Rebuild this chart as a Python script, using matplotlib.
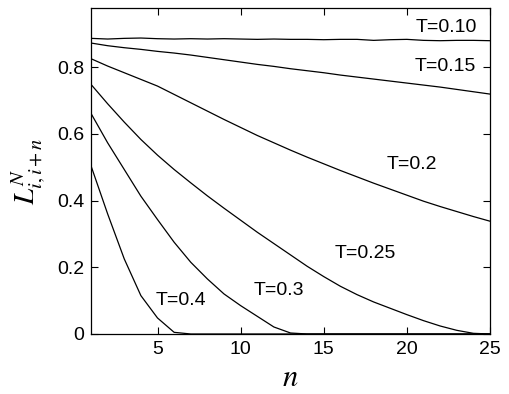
import numpy as np
import matplotlib.pyplot as plt

n = np.arange(1, 26)

L_010 = [0.886, 0.884, 0.886, 0.887, 0.885, 0.884, 0.885, 0.884, 0.885, 0.884,
         0.883, 0.884, 0.883, 0.883, 0.882, 0.883, 0.883, 0.880, 0.882, 0.883,
         0.880, 0.879, 0.880, 0.880, 0.879]
L_015 = [0.872, 0.864, 0.858, 0.853, 0.847, 0.842, 0.836, 0.829, 0.822, 0.815,
         0.808, 0.802, 0.795, 0.789, 0.783, 0.776, 0.770, 0.764, 0.758, 0.752,
         0.746, 0.740, 0.733, 0.726, 0.719]
L_020 = [0.825, 0.803, 0.783, 0.763, 0.743, 0.718, 0.693, 0.668, 0.643, 0.619,
         0.595, 0.573, 0.551, 0.530, 0.510, 0.490, 0.471, 0.452, 0.434, 0.416,
         0.398, 0.382, 0.367, 0.352, 0.338]
L_025 = [0.748, 0.690, 0.635, 0.583, 0.536, 0.493, 0.453, 0.414, 0.377, 0.341,
         0.305, 0.271, 0.237, 0.203, 0.172, 0.143, 0.118, 0.096, 0.077, 0.058,
         0.040, 0.024, 0.011, 0.002, 0.0]
L_030 = [0.661, 0.573, 0.493, 0.413, 0.343, 0.275, 0.215, 0.165, 0.120, 0.085,
         0.053, 0.021, 0.003, 0.0, 0.0, 0.0, 0.0, 0.0, 0.0, 0.0,
         0.0, 0.0, 0.0, 0.0, 0.0]
L_040 = [0.504, 0.360, 0.225, 0.115, 0.048, 0.005, 0.0, 0.0, 0.0, 0.0,
         0.0, 0.0, 0.0, 0.0, 0.0, 0.0, 0.0, 0.0, 0.0, 0.0,
         0.0, 0.0, 0.0, 0.0, 0.0]

curvas = [L_010, L_015, L_020, L_025, L_030, L_040]
rotulos = ['T=0.10', 'T=0.15', 'T=0.2', 'T=0.25', 'T=0.3', 'T=0.4']
pos_rot = [(22.4, 0.92), (22.3, 0.803), (20.3, 0.509), (17.5, 0.241), (12.3, 0.130), (6.4, 0.099)]

plt.rcParams['font.family'] = ['Liberation Sans', 'DejaVu Sans']
plt.rcParams['mathtext.fontset'] = 'stix'

fig = plt.figure(figsize=(5.09, 3.94), dpi=100)
ax = fig.add_axes([0.1788, 0.1523, 0.7839, 0.8274])

for y in curvas:
    ax.plot(n, y, color='black', lw=0.9)

# rótulos de temperatura
for txt, (xt, yt) in zip(rotulos, pos_rot):
    ax.text(xt, yt, txt, fontsize=14, ha='center', va='center')

ax.set_xlim(1, 25)
ax.set_ylim(0, 0.977)
ax.set_xticks([5, 10, 15, 20, 25])
ax.set_yticks([0, 0.2, 0.4, 0.6, 0.8])
ax.set_yticklabels(['0', '0.2', '0.4', '0.6', '0.8'])
ax.tick_params(direction='in', top=True, right=True, labelsize=14, length=5, width=0.8, pad=5)
for s in ax.spines.values():
    s.set_linewidth(0.9)

ax.set_xlabel(r'$n$', fontsize=22, labelpad=4)
ax.set_ylabel(r'$L^N_{i,i+n}$', fontsize=21, labelpad=6)

fig.savefig('out.png', dpi=100)
